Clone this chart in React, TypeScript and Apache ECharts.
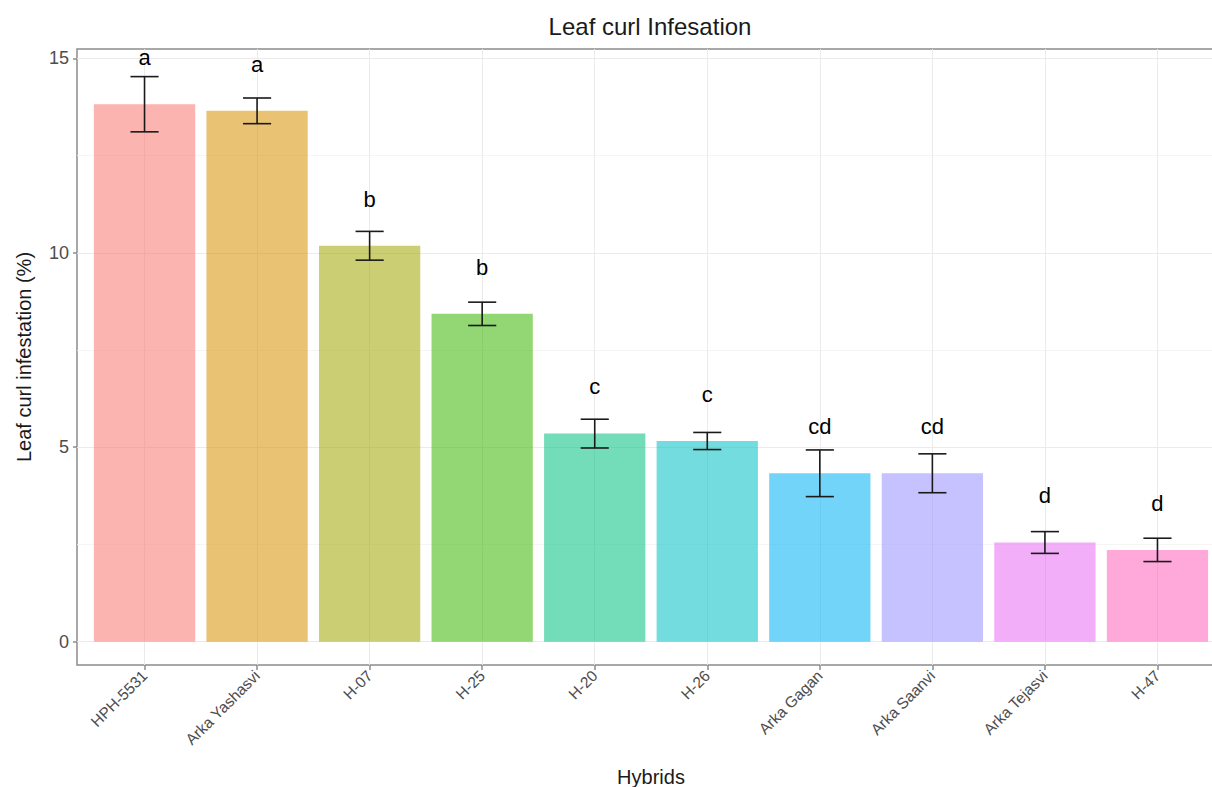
import React, { useEffect, useRef } from "react";
import * as echarts from "echarts";

const categories = [
  "HPH-5531",
  "Arka Yashasvi",
  "H-07",
  "H-25",
  "H-20",
  "H-26",
  "Arka Gagan",
  "Arka Saanvi",
  "Arka Tejasvi",
  "H-47",
];
const means = [13.82, 13.65, 10.18, 8.43, 5.35, 5.16, 4.33, 4.33, 2.55, 2.36];
const errors = [0.71, 0.33, 0.37, 0.3, 0.37, 0.22, 0.6, 0.5, 0.28, 0.3];
const letters = ["a", "a", "b", "b", "c", "c", "cd", "cd", "d", "d"];
const colors = [
  "#F8766D",
  "#D89000",
  "#A3A500",
  "#39B600",
  "#00BF7D",
  "#00BFC4",
  "#00B0F6",
  "#9590FF",
  "#E76BF3",
  "#FF62BC",
];
const yTicks = [0, 5, 10, 15];
const yMinorTicks = [2.5, 7.5, 12.5];

const FONT = "'Liberation Sans', Arial, Helvetica, sans-serif";

export default function App() {
  const ref = useRef<HTMLDivElement>(null);

  useEffect(() => {
    if (!ref.current) return;
    const chart = echarts.init(ref.current, null, { renderer: "svg" });
    const idx = categories.map((_, i) => i);
    const barData = idx.map((i) => [i, means[i]]);
    const errData = idx.map((i) => [i, means[i] - errors[i], means[i] + errors[i]]);
    const letterData = idx.map((i) => [i, means[i]]);

    chart.setOption({
      animation: false,
      backgroundColor: "#ffffff",
      title: {
        text: "Leaf curl Infesation",
        left: 645,
        top: 9,
        textAlign: "center",
        textStyle: { fontFamily: FONT, fontSize: 24, fontWeight: "normal", color: "#1a1a1a" },
      },
      grid: {
        left: 77,
        right: 15,
        top: 49,
        bottom: 122,
        show: true,
        borderColor: "#8c8c8c",
        borderWidth: 1.5,
        backgroundColor: "transparent",
        outerBoundsMode: "none",
        containLabel: false,
      },
      xAxis: {
        type: "value",
        min: -0.6,
        max: 9.6,
        name: "Hybrids",
        nameLocation: "middle",
        nameGap: 102,
        nameTextStyle: { fontFamily: FONT, fontSize: 20, color: "#1a1a1a" },
        axisLine: { show: false, onZero: false },
        axisTick: { show: true, length: 5, customValues: idx, lineStyle: { color: "#8c8c8c", width: 1.5 } },
        axisLabel: {
          customValues: idx,
          rotate: 45,
          margin: 8,
          fontFamily: FONT,
          fontSize: 15.5,
          color: "#4d4d4d",
          formatter: (v: number) => categories[Math.round(v)] ?? "",
        },
        splitLine: { show: true, lineStyle: { color: "#ebebeb", width: 1 } },
      },
      yAxis: [
        {
          type: "value",
          min: -0.6,
          max: 15.24,
          name: "Leaf curl infestation (%)",
          nameLocation: "middle",
          nameGap: 43,
          nameTextStyle: { fontFamily: FONT, fontSize: 20, color: "#1a1a1a" },
          axisLine: { show: false, onZero: false },
          axisTick: { show: true, length: 4, customValues: yTicks, lineStyle: { color: "#8c8c8c", width: 1.5 } },
          axisLabel: {
            customValues: yTicks,
            margin: 8,
            fontFamily: FONT,
            fontSize: 18,
            color: "#4d4d4d",
          },
          splitLine: { show: true, lineStyle: { color: "#ebebeb", width: 1.2 } },
        },
        {
          type: "value",
          min: -0.6,
          max: 15.24,
          position: "left",
          axisLine: { show: false, onZero: false },
          axisTick: { show: false, customValues: yMinorTicks },
          axisLabel: { show: false, customValues: yMinorTicks },
          splitLine: { show: true, lineStyle: { color: "#f2f2f2", width: 0.8 } },
        },
      ],
      series: [
        {
          type: "custom",
          name: "bars",
          data: barData,
          z: 2,
          renderItem: (params: any, api: any) => {
            const i = api.value(0);
            const v = api.value(1);
            const p1 = api.coord([i - 0.45, v]);
            const p2 = api.coord([i + 0.45, 0]);
            return {
              type: "rect",
              shape: { x: p1[0], y: p1[1], width: p2[0] - p1[0], height: p2[1] - p1[1] },
              style: { fill: colors[i], opacity: 0.55 },
            };
          },
        },
        {
          type: "custom",
          name: "errors",
          data: errData,
          z: 3,
          renderItem: (params: any, api: any) => {
            const i = api.value(0);
            const lo = api.value(1);
            const hi = api.value(2);
            const a = api.coord([i, lo]);
            const b = api.coord([i, hi]);
            const l = api.coord([i - 0.125, lo]);
            const r = api.coord([i + 0.125, hi]);
            const st = { stroke: "#1a1a1a", lineWidth: 1.6, fill: "none" };
            return {
              type: "group",
              children: [
                { type: "line", shape: { x1: a[0], y1: a[1], x2: b[0], y2: b[1] }, style: st },
                { type: "line", shape: { x1: l[0], y1: a[1], x2: r[0], y2: a[1] }, style: st },
                { type: "line", shape: { x1: l[0], y1: b[1], x2: r[0], y2: b[1] }, style: st },
              ],
            };
          },
        },
        {
          type: "custom",
          name: "letters",
          data: letterData,
          z: 4,
          renderItem: (params: any, api: any) => {
            const i = api.value(0);
            const v = api.value(1);
            const p = api.coord([i, v + 1.2]);
            return {
              type: "text",
              x: p[0],
              y: p[1],
              style: {
                text: letters[i],
                textAlign: "center",
                textVerticalAlign: "middle",
                font: `22px ${FONT}`,
                fill: "#000000",
              },
            };
          },
        },
      ],
    });

    return () => chart.dispose();
  }, []);

  return (
    <div
      style={{
        position: "fixed",
        left: 0,
        top: 0,
        width: 1212,
        height: 787,
        overflow: "hidden",
        background: "#ffffff",
      }}
    >
      <div ref={ref} style={{ width: 1240, height: 787 }} />
    </div>
  );
}
